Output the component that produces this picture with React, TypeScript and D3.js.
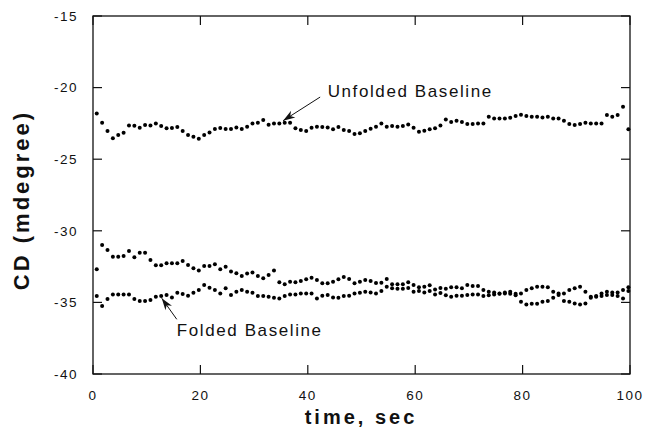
import React from 'react';
import * as d3 from 'd3';

// CD signal (mdegree), one reading per second
const unfolded = [
  -21.80, -22.45, -23.03, -23.54, -23.31, -23.15, -22.64, -22.66, -22.80, -22.61,
  -22.64, -22.50, -22.68, -22.84, -22.82, -22.75, -23.03, -23.31, -23.43, -23.57,
  -23.31, -23.13, -22.89, -22.82, -22.89, -22.89, -22.78, -22.89, -22.73, -22.50,
  -22.45, -22.26, -22.59, -22.50, -22.50, -22.45, -22.45, -22.84, -22.96, -23.03,
  -22.80, -22.73, -22.75, -22.78, -22.91, -22.75, -22.96, -23.03, -23.24, -23.19,
  -23.03, -22.87, -22.73, -22.50, -22.73, -22.68, -22.73, -22.68, -22.57, -22.80,
  -23.08, -23.01, -22.91, -22.84, -22.64, -22.22, -22.40, -22.31, -22.40, -22.54,
  -22.54, -22.50, -22.50, -22.03, -22.15, -22.15, -22.15, -22.10, -21.98, -21.89,
  -21.98, -22.03, -22.03, -22.08, -22.03, -22.15, -22.15, -22.31, -22.54, -22.61,
  -22.54, -22.45, -22.50, -22.50, -22.50, -21.91, -22.03, -21.91, -21.33, -22.91,
];

const foldedA = [
  -32.69, -30.99, -31.34, -31.81, -31.81, -31.76, -31.41, -31.85, -31.53, -31.53,
  -32.04, -32.41, -32.41, -32.27, -32.27, -32.27, -32.11, -32.39, -32.62, -32.78,
  -32.46, -32.46, -32.34, -32.69, -32.51, -32.85, -32.97, -33.16, -32.99, -32.92,
  -33.16, -33.32, -33.09, -32.78, -33.60, -33.74, -33.55, -33.60, -33.51, -33.39,
  -33.27, -33.44, -33.67, -33.67, -33.55, -33.39, -33.23, -33.37, -33.67, -33.55,
  -33.44, -33.51, -33.65, -33.62, -33.37, -33.74, -33.74, -33.74, -33.60, -33.79,
  -33.95, -33.90, -33.80, -34.10, -34.00, -34.05, -33.95, -33.95, -34.02, -33.79,
  -33.85, -33.85, -34.13, -34.25, -34.30, -34.37, -34.30, -34.25, -34.40, -34.37,
  -34.13, -34.02, -33.90, -33.90, -33.95, -34.25, -34.48, -34.37, -34.13, -34.02,
  -33.90, -34.25, -34.67, -34.55, -34.37, -34.25, -34.48, -34.30, -34.13, -33.95,
];

const foldedB = [
  -34.55, -35.25, -34.76, -34.44, -34.44, -34.44, -34.44, -34.76, -34.90, -34.90,
  -34.83, -34.60, -34.55, -34.48, -34.65, -34.32, -34.41, -34.53, -34.32, -34.13,
  -33.79, -33.97, -34.13, -34.37, -34.02, -34.48, -34.25, -34.13, -34.25, -34.32,
  -34.55, -34.55, -34.60, -34.67, -34.72, -34.55, -34.44, -34.44, -34.37, -34.37,
  -34.37, -34.72, -34.53, -34.48, -34.65, -34.67, -34.55, -34.53, -34.37, -34.32,
  -34.25, -34.30, -34.37, -34.20, -33.90, -34.02, -34.05, -34.05, -34.00, -34.25,
  -34.20, -34.30, -34.20, -34.45, -34.35, -34.50, -34.60, -34.53, -34.53, -34.48,
  -34.44, -34.44, -34.55, -34.50, -34.44, -34.40, -34.37, -34.40, -34.50, -34.95,
  -35.14, -35.10, -35.10, -34.95, -34.90, -34.67, -34.37, -34.90, -34.95, -35.07,
  -35.14, -35.07, -34.60, -34.60, -34.55, -34.48, -34.30, -34.55, -34.72, -34.20,
];

const firstTime = 0.7; // s
const timeStep = 1; // s

const xTicks = [0, 20, 40, 60, 80, 100];
const yTicks = [-15, -20, -25, -30, -35, -40];

const annotations = [
  { label: 'Unfolded Baseline', tip: [35.4, -22.31], tail: [42.3, -20.66], text: [43.7, -20.66] },
  { label: 'Folded Baseline', tip: [12.8, -34.71], tail: [15.6, -36.18], text: [15.6, -37.33] },
];

const W = 645;
const H = 433;
const FONT = '"Liberation Sans", Arial, Helvetica, sans-serif';

export default function App() {
  const x = d3.scaleLinear().domain([0, 100]).range([93, 630]);
  const y = d3.scaleLinear().domain([-40, -15]).range([374, 16]);
  const [x0, x1] = x.range();
  const [y0, y1] = y.range();
  const tickLen = 9;

  const series = [unfolded, foldedA, foldedB];

  const arrowHead = (tx: number, ty: number, sx: number, sy: number) => {
    const ang = Math.atan2(sy - ty, sx - tx);
    const L = 12, Wd = 4, notch = 8.5;
    const ca = Math.cos(ang), sa = Math.sin(ang);
    const p = (a: number, b: number) => `${tx + a * ca - b * sa},${ty + a * sa + b * ca}`;
    return `M${p(0, 0)} L${p(L, -Wd)} L${p(notch, 0)} L${p(L, Wd)} Z`;
  };

  return (
    <svg width={W} height={H} style={{ position: 'absolute', left: 0, top: 0, background: '#fff' }}>
      <rect x={0} y={0} width={W} height={H} fill="#fff" />
      {/* frame */}
      <rect x={x0} y={y1} width={x1 - x0} height={y0 - y1} fill="none" stroke="#111" strokeWidth={1.3} />
      {/* ticks */}
      {xTicks.map((t) => (
        <g key={'xt' + t}>
          <line x1={x(t)} x2={x(t)} y1={y0} y2={y0 - tickLen} stroke="#111" strokeWidth={1.2} />
          <line x1={x(t)} x2={x(t)} y1={y1} y2={y1 + tickLen} stroke="#111" strokeWidth={1.2} />
          <text x={x(t)} y={400} textAnchor="middle" fontFamily={FONT} fontSize={13.5}
            letterSpacing={1.5} fill="#111">{t}</text>
        </g>
      ))}
      {yTicks.map((v) => (
        <g key={'yt' + v}>
          <line x1={x0} x2={x0 + tickLen} y1={y(v)} y2={y(v)} stroke="#111" strokeWidth={1.2} />
          <line x1={x1} x2={x1 - tickLen} y1={y(v)} y2={y(v)} stroke="#111" strokeWidth={1.2} />
          <text x={78} y={y(v)} dy="0.35em" textAnchor="end" fontFamily={FONT} fontSize={13.5}
            letterSpacing={1.5} fill="#111">{v}</text>
        </g>
      ))}
      {/* data points */}
      {series.map((vals, si) => (
        <g key={'s' + si}>
          {vals.map((v, i) => (
            <circle key={i} cx={x(firstTime + i * timeStep)} cy={y(v)} r={2} fill="#000" />
          ))}
        </g>
      ))}
      {/* annotations */}
      {annotations.map((a) => {
        const tx = x(a.tip[0]), ty = y(a.tip[1]);
        const sx = x(a.tail[0]), sy = y(a.tail[1]);
        return (
          <g key={a.label}>
            <line x1={sx} y1={sy} x2={tx} y2={ty} stroke="#111" strokeWidth={1} />
            <path d={arrowHead(tx, ty, sx, sy)} fill="#111" />
            <text x={x(a.text[0])} y={y(a.text[1])} fontFamily={FONT} fontSize={17}
              letterSpacing={1.6} fill="#111">{a.label}</text>
          </g>
        );
      })}
      {/* axis titles */}
      <text x={361} y={424} textAnchor="middle" fontFamily={FONT} fontSize={20} fontWeight="bold"
        letterSpacing={3} fill="#111">time, sec</text>
      <text transform={`translate(29,${(y0 + y1) / 2 + 5}) rotate(-90)`} textAnchor="middle"
        fontFamily={FONT} fontSize={22} fontWeight="bold" letterSpacing={3} fill="#111">CD (mdegree)</text>
    </svg>
  );
}
